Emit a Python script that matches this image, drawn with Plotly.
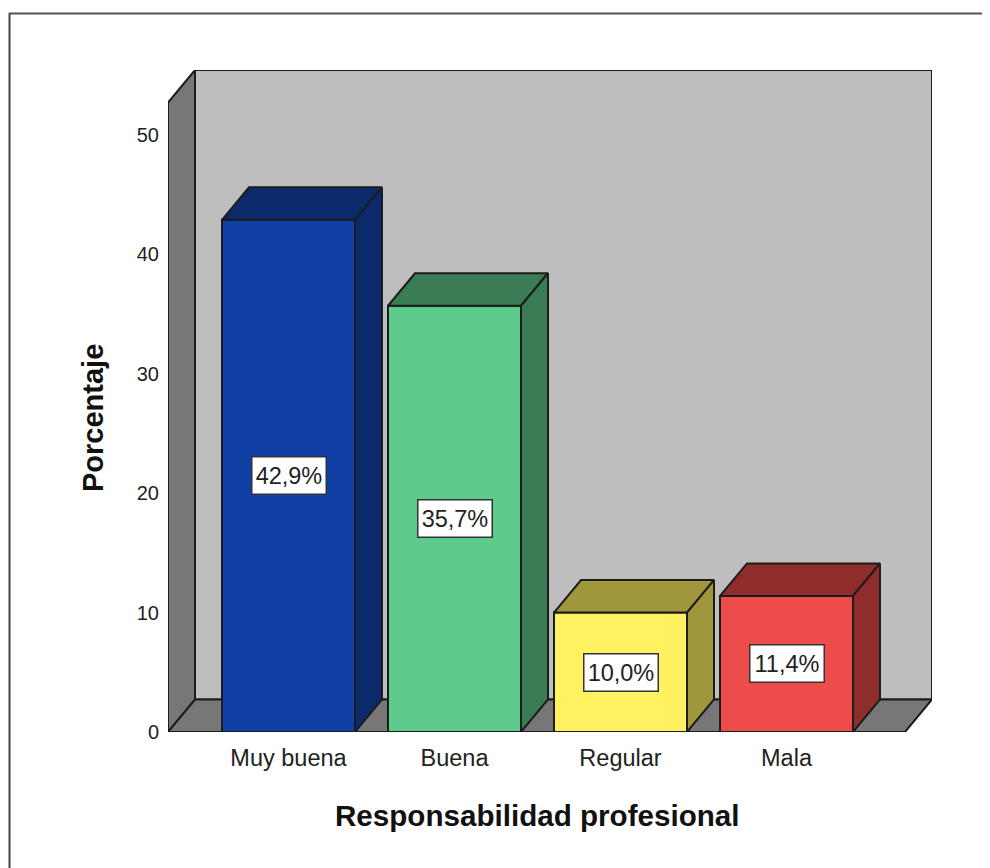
import plotly.graph_objects as go

categories = ["Muy buena", "Buena", "Regular", "Mala"]
values = [42.9, 35.7, 10.0, 11.4]
labels = ["42,9%", "35,7%", "10,0%", "11,4%"]
front_colors = ["#1040A5", "#5DCB8C", "#FFF15F", "#EE4B4B"]
shade_colors = ["#0A2A6B", "#397C55", "#A0973D", "#8F2C2C"]
y_ticks = [0, 10, 20, 30, 40, 50]

# Layout (pixels, in page coordinates; the page body has an 8 px margin)
PAGE = 8
W, H = 990 - PAGE, 868 - PAGE
L, R, T, B = 168 - PAGE, 932 - PAGE, 70 - PAGE, 732 - PAGE
PX_PER_CAT = 166.0
PX_PER_UNIT = 11.94
X0_PX = 288.5 - PAGE
DX_PX, DY_PX = 27, 32.5
bar_width = 133 / PX_PER_CAT

dx = DX_PX / PX_PER_CAT
dy = DY_PX / PX_PER_UNIT
x_min = (L - X0_PX) / PX_PER_CAT
x_max = (R - X0_PX) / PX_PER_CAT
y_max = (B - T) / PX_PER_UNIT
EDGE = "#1c1c1c"
LW = 2
positions = list(range(len(categories)))


def path(points):
    return "M " + " L ".join(f"{a},{b}" for a, b in points) + " Z"


def px(xp):
    return (xp - PAGE - L) / (R - L)


def py(yp):
    return (B - (yp - PAGE)) / (B - T)


shapes = [
    dict(type="path", xref="x", yref="y", layer="below", fillcolor="#BEBEBE",
         line=dict(color=EDGE, width=LW),
         path=path([(x_min + dx, dy), (x_min + dx, y_max), (x_max, y_max), (x_max, dy)])),
    dict(type="path", xref="x", yref="y", layer="below", fillcolor="#777777",
         line=dict(color=EDGE, width=LW),
         path=path([(x_min, 0), (x_min, y_max - dy), (x_min + dx, y_max), (x_min + dx, dy)])),
    dict(type="path", xref="x", yref="y", layer="below", fillcolor="#777777",
         line=dict(color=EDGE, width=LW),
         path=path([(x_min, 0), (x_min + dx, dy), (x_max, dy), (x_max - dx, 0)])),
    # picture frame
    dict(type="line", xref="paper", yref="paper", x0=px(9), x1=px(990), y0=py(13.5), y1=py(13.5),
         line=dict(color="#555555", width=2)),
    dict(type="line", xref="paper", yref="paper", x0=px(9.5), x1=px(9.5), y0=py(13), y1=py(868),
         line=dict(color="#444444", width=2)),
]

fig = go.Figure()
fig.add_trace(go.Bar(
    x=positions, y=values, width=bar_width,
    marker=dict(color=front_colors, line=dict(color=EDGE, width=LW)),
    hoverinfo="skip",
))

annotations = []
for xc, v, lab, shade in zip(positions, values, labels, shade_colors):
    xl, xr = xc - bar_width / 2, xc + bar_width / 2
    # top face
    fig.add_trace(go.Scatter(
        x=[xl, xl + dx, xr + dx, xr, xl], y=[v, v + dy, v + dy, v, v],
        mode="lines", fill="toself", fillcolor=shade,
        line=dict(color=EDGE, width=LW), hoverinfo="skip"))
    # side face
    fig.add_trace(go.Scatter(
        x=[xr, xr + dx, xr + dx, xr, xr], y=[0, dy, v + dy, v, 0],
        mode="lines", fill="toself", fillcolor=shade,
        line=dict(color=EDGE, width=LW), hoverinfo="skip"))
    annotations.append(dict(
        x=xc, y=v / 2, xref="x", yref="y", text=lab, showarrow=False,
        font=dict(family="Liberation Sans", size=23.5, color="#222222"),
        bgcolor="#FFFFFF", bordercolor="#333333", borderwidth=1.5,
        width=73, height=36, borderpad=0, align="center", valign="middle"))

annotations.append(dict(
    x=px(537), y=py(815), xref="paper", yref="paper", text="<b>Responsabilidad profesional</b>",
    xanchor="center", yanchor="middle",
    showarrow=False, font=dict(family="Liberation Sans", size=29.6, color="#111111")))
annotations.append(dict(
    x=px(93), y=py(418), xref="paper", yref="paper", text="<b>Porcentaje</b>", textangle=-90,
    xanchor="center", yanchor="middle",
    showarrow=False, font=dict(family="Liberation Sans", size=29, color="#111111")))

fig.update_layout(
    width=W, height=H, autosize=False,
    margin=dict(l=L, r=W - R, t=T, b=H - B, pad=0),
    paper_bgcolor="#FFFFFF", plot_bgcolor="rgba(0,0,0,0)",
    showlegend=False, hovermode=False,
    shapes=shapes, annotations=annotations,
    xaxis=dict(range=[x_min, x_max], tickmode="array", tickvals=positions, ticktext=categories,
               showgrid=False, zeroline=False, showline=False, ticks="", ticklabelstandoff=9,
               tickfont=dict(family="Liberation Sans", size=23.5, color="#222222")),
    yaxis=dict(range=[0, y_max], tickmode="array", tickvals=y_ticks,
               showgrid=False, zeroline=False, showline=False, ticks="", ticklabelstandoff=8,
               tickfont=dict(family="Liberation Sans", size=20, color="#222222")),
)
fig.write_html("out.html")
